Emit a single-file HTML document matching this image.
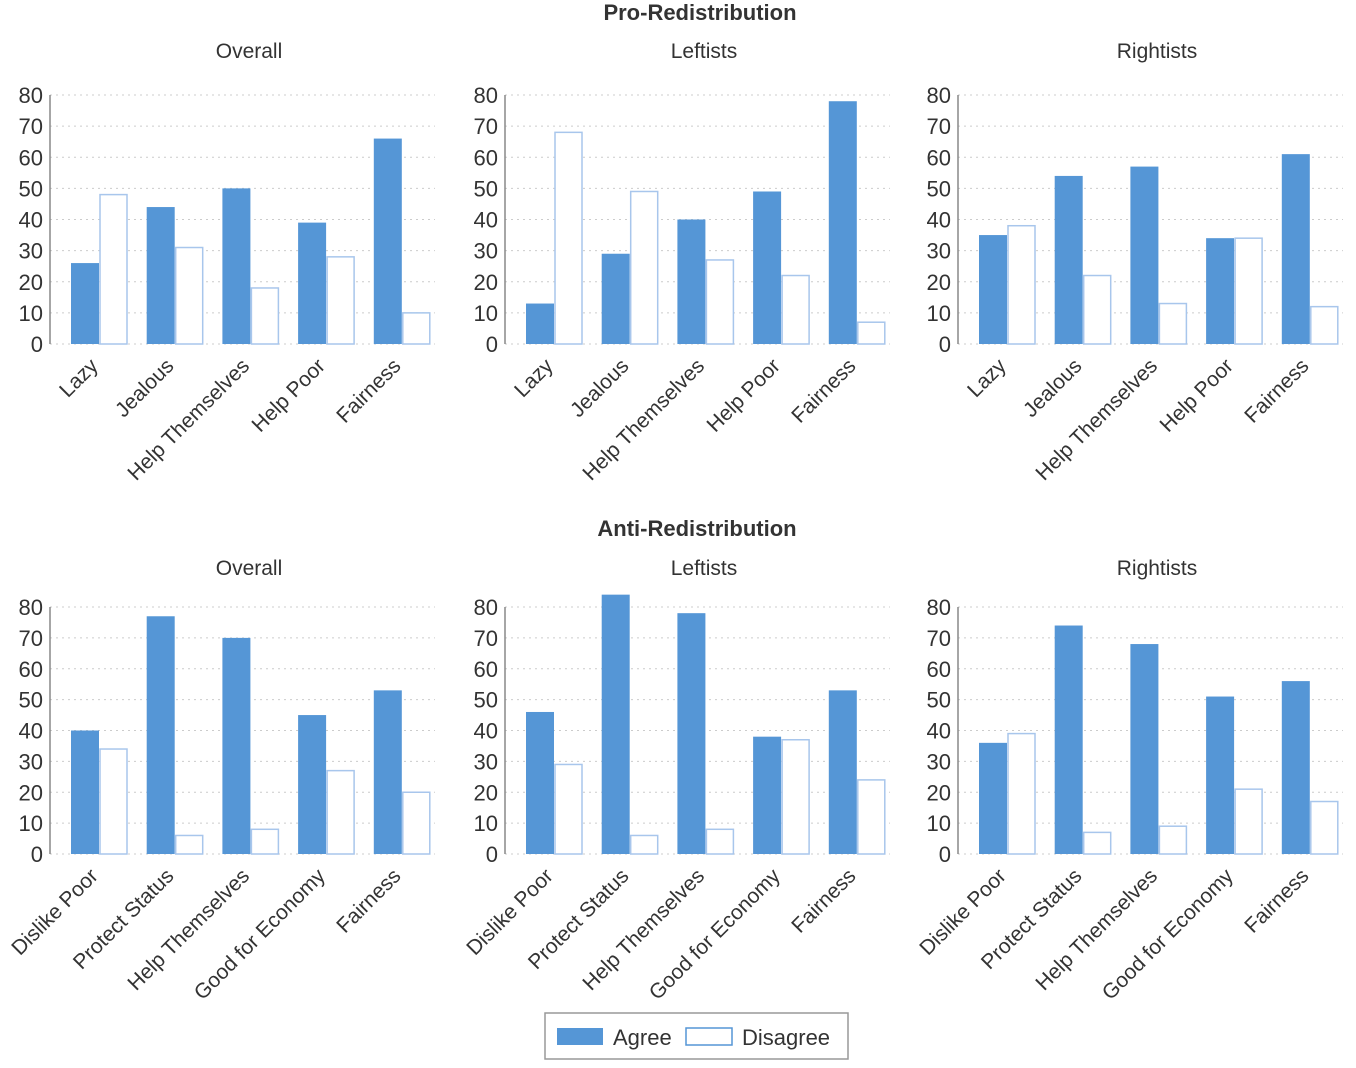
<!DOCTYPE html>
<html><head><meta charset="utf-8"><style>
body{margin:0;background:#fff;font-family:"Liberation Sans",sans-serif;}
svg text{font-family:"Liberation Sans",sans-serif;fill:#333;}
</style></head><body>
<svg id="c" width="1356" height="1063">
<text x="700" y="20" text-anchor="middle" font-size="22" font-weight="bold">Pro-Redistribution</text>
<text x="697" y="536" text-anchor="middle" font-size="22" font-weight="bold">Anti-Redistribution</text>
<g>
<rect x="545" y="1013" width="303" height="46" fill="#fff" stroke="#999" stroke-width="1.5"/>
<rect x="557" y="1028" width="46" height="17" fill="#5596d6"/>
<text x="613" y="1045" font-size="22">Agree</text>
<rect x="686" y="1028" width="46" height="17" fill="#fff" stroke="#5596d6" stroke-width="1.5"/>
<text x="742" y="1045" font-size="22">Disagree</text>
</g>
</svg>
<script>
const proCats=["Lazy","Jealous","Help Themselves","Help Poor","Fairness"];
const antiCats=["Dislike Poor","Protect Status","Help Themselves","Good for Economy","Fairness"];
const ticks=[0,10,20,30,40,50,60,70,80];
const titles=["Overall","Leftists","Rightists"];
const proAgree=[[26,44,50,39,66],[13,29,40,49,78],[35,54,57,34,61]];
const proDisagree=[[48,31,18,28,10],[68,49,27,22,7],[38,22,13,34,12]];
const antiAgree=[[40,77,70,45,53],[46,84,78,38,53],[36,74,68,51,56]];
const antiDisagree=[[34,6,8,27,20],[29,6,8,37,24],[39,7,9,21,17]];
const NS="http://www.w3.org/2000/svg";
const svg=document.getElementById('c');
function mk(t,a,p){const e=document.createElementNS(NS,t);for(const k in a)e.setAttribute(k,a[k]);(p||svg).appendChild(e);return e;}
const axX=[50,505,958];
function panel(i,top,cats,ag,dg,row){
  const x0=axX[i], y0=top===0?344:854, y80=top===0?95:607;
  const y=v=>y0+(v/80)*(y80-y0);
  const g=mk('g',{});
  
  
  const tt=mk('text',{x:x0+199,y:top===0?58:575,'text-anchor':'middle','font-size':21},g);
  tt.textContent=titles[i];
  
  
  ticks.forEach(t=>{
    const l=mk('line',{x1:x0,x2:x0+385,y1:y(t),y2:y(t),stroke:'#ccc','stroke-dasharray':'2,4'},g);
    
    
    const tx=mk('text',{x:x0-7,y:y(t)+8,'text-anchor':'end','font-size':22},g);
    tx.textContent=t;
    
    
  });
  const ax=mk('line',{x1:x0,x2:x0,y1:y80,y2:y0,stroke:'#888','stroke-width':1.5},g);
  
  
  const bw=28, step=75.7;
  cats.forEach((c,j)=>{
    const bx=x0+21+j*step;
    const a=mk('rect',{x:bx,y:y(ag[j]),width:bw,height:y0-y(ag[j]),fill:'#5596d6'},g);
    
    
    const d=mk('rect',{x:bx+bw+1,y:y(dg[j]),width:bw-1,height:y0-y(dg[j]),fill:'#fff',stroke:'#a8c6ec','stroke-width':1.5},g);
    
    
    const lx=bx+bw-10, ly=y0+13;
    const lb=mk('text',{x:lx,y:ly,'text-anchor':'end','font-size':21,transform:`rotate(-45 ${lx} ${ly})`,'dominant-baseline':'hanging'},g);
    lb.textContent=c;
    
    
  });
}
for(let i=0;i<3;i++){panel(i,0,proCats,proAgree[i],proDisagree[i],'pro');panel(i,1,antiCats,antiAgree[i],antiDisagree[i],'anti');}
</script>
</body></html>
